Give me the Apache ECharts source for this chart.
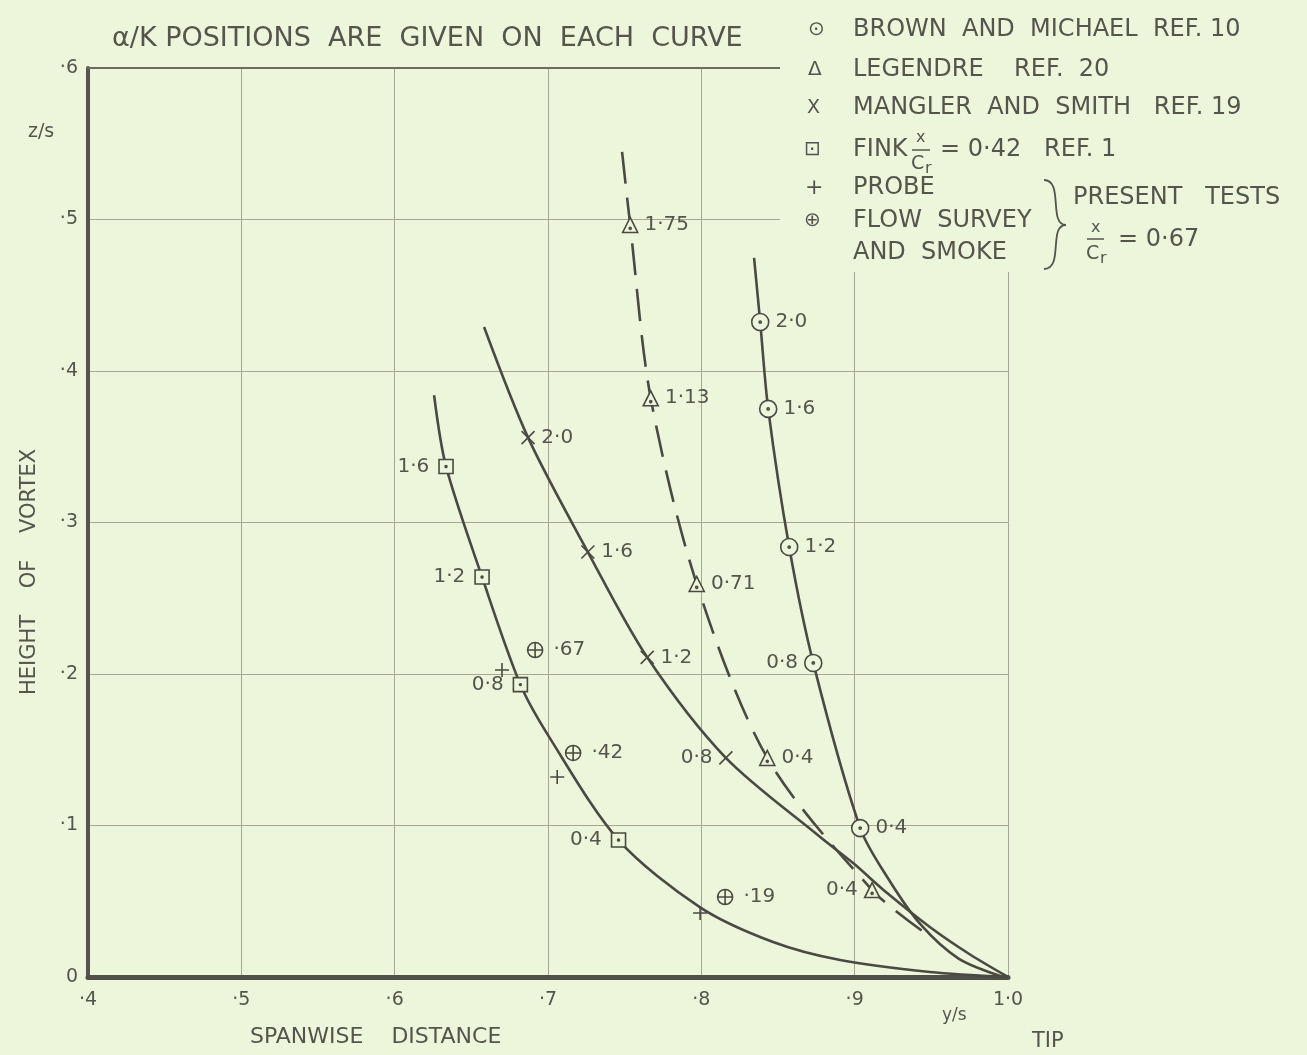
<!DOCTYPE html>
<html><head><meta charset="utf-8">
<script src="https://cdn.jsdelivr.net/npm/echarts@6/dist/echarts.min.js"></script>
<style>html,body{margin:0;padding:0;background:#edf5db;}#c{width:1307px;height:1055px;}</style>
</head><body><div id="c"></div>
<script>
// ---------- data ----------
const xTickLabels = ['·4','·5','·6','·7','·8','·9','1·0'];
const yTickLabels = ['0','·1','·2','·3','·4','·5','·6'];

// faired curves
const finkCurveX    = [0.6257, 0.6335, 0.657, 0.682, 0.701, 0.746, 0.7992, 0.8468, 0.8905, 0.949, 1.0];
const finkCurveY    = [0.384, 0.337, 0.264, 0.193, 0.158, 0.0904, 0.046, 0.0231, 0.0112, 0.0033, 0];
const manglerCurveX = [0.6583, 0.687, 0.726, 0.7647, 0.816, 0.8775, 0.899, 0.9212, 0.949, 0.975, 1.0];
const manglerCurveY = [0.429, 0.356, 0.2805, 0.211, 0.1446, 0.0924, 0.0752, 0.0554, 0.033, 0.015, 0];
const legendreCurveX = [0.7483, 0.7536, 0.767, 0.797, 0.843, 0.9114, 0.946];
const legendreCurveY = [0.5446, 0.4964, 0.382, 0.2594, 0.1446, 0.0574, 0.029];
const brownCurveX   = [0.8344, 0.8384, 0.8436, 0.8573, 0.873, 0.9036, 0.9212, 0.9427, 0.968, 0.997];
const brownCurveY   = [0.4746, 0.4323, 0.375, 0.2838, 0.2073, 0.0983, 0.066, 0.035, 0.012, 0];

// measured points with alpha/K labels
const brownX = [0.8384, 0.8436, 0.8573, 0.873, 0.9036];
const brownY = [0.4323, 0.375, 0.2838, 0.2073, 0.0983];
const brownLabels = ['2·0','1·6','1·2','0·8','0·4'];
const legendreX = [0.7536, 0.767, 0.797, 0.843, 0.9114];
const legendreY = [0.4964, 0.382, 0.2594, 0.1446, 0.0574];
const legendreLabels = ['1·75','1·13','0·71','0·4','0·4'];
const manglerX = [0.687, 0.726, 0.7647, 0.816];
const manglerY = [0.356, 0.2805, 0.211, 0.1446];
const manglerLabels = ['2·0','1·6','1·2','0·8'];
const finkX = [0.6335, 0.657, 0.682, 0.746];
const finkY = [0.337, 0.264, 0.193, 0.0904];
const finkLabels = ['1·6','1·2','0·8','0·4'];
const probeX = [0.670, 0.706, 0.7992];
const probeY = [0.2026, 0.132, 0.0422];
const flowX = [0.6916, 0.7164, 0.8155];
const flowY = [0.2158, 0.1479, 0.0528];
const flowLabels = ['·67','·42','·19'];

// ---------- styling ----------
const BG = '#edf5db', INK = '#4a4a42', TXT = '#55554c', GRIDC = '#a7a694';
const FONT = 'DejaVu Sans';
const DOT = 'M10,8.7A1.3,1.3,0,1,1,10,11.3A1.3,1.3,0,1,1,10,8.7Z';
const SYM = {
  circleDot: 'path://M10,0A10,10,0,1,1,10,20A10,10,0,1,1,10,0Z' + DOT,
  triangle: 'path://M10,0L20,18L0,18ZM10,11.7A1.3,1.3,0,1,1,10,14.3A1.3,1.3,0,1,1,10,11.7Z',
  cross: 'path://M0,0L20,20M20,0L0,20',
  squareDot: 'path://M0,0L20,0L20,20L0,20Z' + DOT,
  plus: 'path://M10,0L10,20M0,10L20,10',
  circlePlus: 'path://M10,0A10,10,0,1,1,10,20A10,10,0,1,1,10,0ZM0,10L20,10M10,0L10,20'
};

function curve(xs, ys, dashed) {
  return {type: 'line', data: xs.map((x, i) => [x, ys[i]]), smooth: 0.3,
    symbol: 'none', silent: true, z: 3,
    lineStyle: {color: INK, width: 2.6, type: dashed ? [32, 14] : 'solid'}};
}
function points(xs, ys, labels, symbol, size, leftSet, dist, open) {
  return {type: 'scatter', symbol: symbol, symbolSize: size, z: 5, silent: true,
    itemStyle: {color: open ? 'rgba(0,0,0,0)' : BG, borderColor: INK, borderWidth: 1.6, opacity: 1},
    data: xs.map((x, i) => {
      const d = {value: [x, ys[i]]};
      if (labels) d.label = {show: true, formatter: labels[i], position: leftSet.indexOf(i) >= 0 ? 'left' : 'right',
        distance: dist, fontFamily: FONT, fontSize: 20, color: TXT};
      return d;
    })};
}

const series = [
  curve(finkCurveX, finkCurveY, false),
  curve(manglerCurveX, manglerCurveY, false),
  curve(legendreCurveX, legendreCurveY, true),
  curve(brownCurveX, brownCurveY, false),
  points(brownX, brownY, brownLabels, SYM.circleDot, 17, [3], 6, false),
  points(legendreX, legendreY, legendreLabels, SYM.triangle, 15, [4], 6, false),
  points(manglerX, manglerY, manglerLabels, SYM.cross, 13, [3], 6, true),
  points(finkX, finkY, finkLabels, SYM.squareDot, 14, [0,1,2,3], 9, false),
  points(probeX, probeY, null, SYM.plus, 14, [], 0, true),
  points(flowX, flowY, flowLabels, SYM.circlePlus, 15, [], 10, false)
];

function T(text, x, y, size, align) {
  return {type: 'text', z: 20, silent: true,
    style: {text: text, x: x, y: y, font: size + 'px "' + FONT + '"', fill: TXT,
      align: align || 'left', verticalAlign: 'middle'}};
}
function TR(text, x, y, size) {
  return {type: 'text', z: 20, silent: true, x: x, y: y, rotation: Math.PI / 2,
    style: {text: text, x: 0, y: 0, font: size + 'px "' + FONT + '"', fill: TXT, align: 'center', verticalAlign: 'middle'}};
}
function L(x1, y1, x2, y2) {
  return {type: 'line', z: 20, silent: true, shape: {x1: x1, y1: y1, x2: x2, y2: y2}, style: {stroke: TXT, lineWidth: 1.5}};
}
function B(x1, y1, c1x, c1y, c2x, c2y, x2, y2) {
  return {type: 'bezierCurve', z: 20, silent: true,
    shape: {x1: x1, y1: y1, cpx1: c1x, cpy1: c1y, cpx2: c2x, cpy2: c2y, x2: x2, y2: y2},
    style: {stroke: TXT, lineWidth: 1.8, fill: null}};
}

const graphic = [
  {type: 'rect', z: 1, silent: true, shape: {x: 780, y: 0, width: 527, height: 272}, style: {fill: BG}},
  T('α/K POSITIONS  ARE  GIVEN  ON  EACH  CURVE', 112, 39, 27),
  T('z/s', 28, 132, 19),
  TR('HEIGHT    OF    VORTEX', 30, 572, 21),
  T('SPANWISE    DISTANCE', 250, 1037, 22),
  T('y/s', 942, 1016, 17),
  T('TIP', 1032, 1042, 21),
  // legend
  T('⊙', 808, 30, 20), T('BROWN  AND  MICHAEL  REF. 10', 853, 30, 24),
  T('Δ', 808, 70, 20), T('LEGENDRE    REF.  20', 853, 70, 24),
  T('X', 807, 108, 19), T('MANGLER  AND  SMITH   REF. 19', 853, 108, 24),
  T('⊡', 804, 150, 20), T('FINK', 853, 150, 24),
  T('x', 916, 138, 16), L(912, 150, 930, 150),
  T('C', 911, 164, 19), T('r', 925, 169, 16),
  T('= 0·42   REF. 1', 940, 150, 24),
  T('+', 805, 188, 22), T('PROBE', 853, 188, 24),
  T('⊕', 804, 221, 20), T('FLOW  SURVEY', 853, 221, 24),
  T('AND  SMOKE', 853, 253, 24),
  B(1044, 180, 1064, 180, 1048, 225, 1066, 225),
  B(1066, 225, 1048, 225, 1064, 269, 1044, 269),
  T('PRESENT   TESTS', 1073, 198, 24),
  T('x', 1091, 228, 16), L(1087, 239, 1104, 239),
  T('C', 1086, 254, 19), T('r', 1100, 259, 16),
  T('= 0·67', 1118, 240, 24)
];

const chart = echarts.init(document.getElementById('c'), null, {renderer: 'canvas'});
chart.setOption({
  backgroundColor: BG,
  animation: false,
  grid: {left: 88, top: 68, right: 299, bottom: 78},
  xAxis: [{
    type: 'value', min: 0.4, max: 1.0, interval: 0.1,
    axisLine: {show: true, onZero: false, lineStyle: {color: '#4f4f48', width: 5}},
    axisTick: {show: false},
    axisLabel: {margin: 14, fontFamily: FONT, fontSize: 19, color: TXT,
      formatter: v => xTickLabels[Math.round(v * 10) - 4]},
    splitLine: {show: true, lineStyle: {color: GRIDC, width: 1}}
  }, {
    type: 'value', position: 'top', min: 0.4, max: 1.0, interval: 0.1,
    axisLine: {show: true, onZero: false, lineStyle: {color: '#6b6b60', width: 2}},
    axisTick: {show: false}, axisLabel: {show: false}, splitLine: {show: false}
  }],
  yAxis: {
    type: 'value', min: 0, max: 0.6, interval: 0.1,
    axisLine: {show: true, onZero: false, lineStyle: {color: '#55554d', width: 4}},
    axisTick: {show: false},
    axisLabel: {margin: 10, fontFamily: FONT, fontSize: 19, color: TXT,
      formatter: v => yTickLabels[Math.round(v * 10)]},
    splitLine: {show: true, lineStyle: {color: GRIDC, width: 1}}
  },
  series: series,
  graphic: graphic
});
</script></body></html>
